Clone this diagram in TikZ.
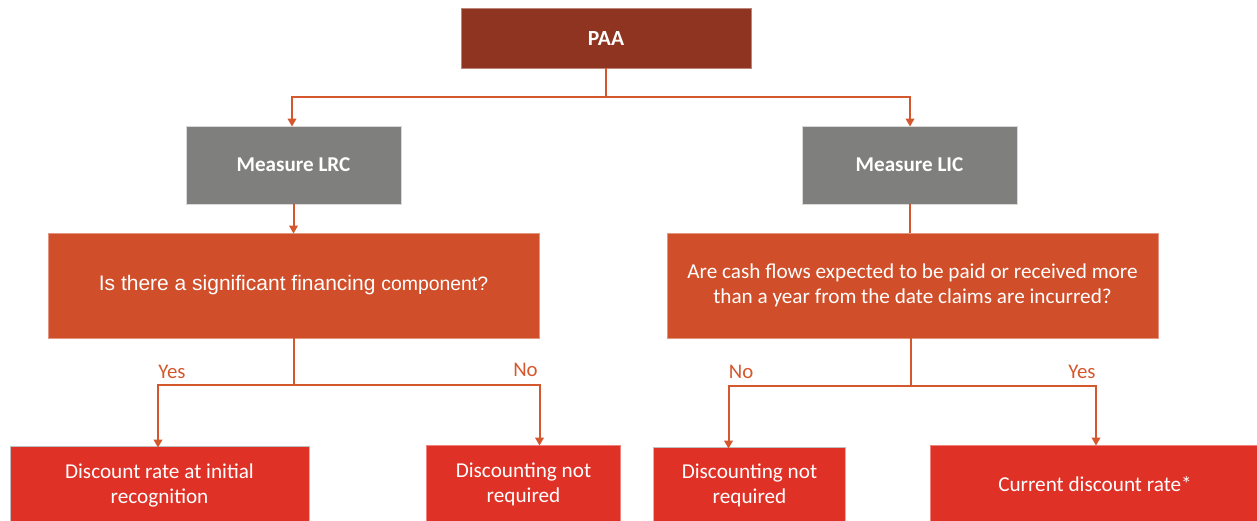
\documentclass[tikz,border=0pt]{standalone}
\usepackage{fontspec}
\setmainfont{Carlito}
\newfontfamily\arialf{Liberation Sans}
\usetikzlibrary{arrows.meta}
\definecolor{paa}{HTML}{8F3420}
\definecolor{grayb}{HTML}{7F7F7E}
\definecolor{qbox}{HTML}{D04E29}
\definecolor{rbox}{HTML}{E03127}
\definecolor{lin}{HTML}{D4572D}
\begin{document}
\begin{tikzpicture}[x=1pt,y=-1pt,
  box/.style={rectangle, inner sep=0pt, text=white, align=center, draw=white!85!black, line width=0.8pt},
  conn/.style={draw=lin, line width=2pt},
  arr/.style={conn, -{Triangle[length=8pt,width=8.5pt]}},
  txt/.style={font=\fontsize{21.2}{25}\selectfont},
  lbl/.style={text=lin, font=\fontsize{20.8}{24}\selectfont}]
\useasboundingbox (0,0) rectangle (1257,521);
\node[box, fill=paa, draw=paa!60!white, minimum width=290pt, minimum height=60pt, font=\bfseries\fontsize{21.6}{25}\selectfont] (paa) at (606,38) {PAA};
\node[box, fill=grayb, minimum width=215pt, minimum height=78pt, font=\bfseries\fontsize{21.1}{25}\selectfont] (lrc) at (293.5,165) {Measure LRC};
\node[box, fill=grayb, minimum width=215pt, minimum height=78pt, font=\bfseries\fontsize{21.1}{25}\selectfont] (lic) at (909.5,165) {Measure LIC};
\node[box, fill=qbox, draw=qbox!60!white, minimum width=491pt, minimum height=105pt] (q1) at (293.5,285.5) {\raisebox{-3pt}{\arialf\fontsize{21}{25}\selectfont Is there a significant financing \fontsize{19.4}{25}\selectfont component?}};
\node[box, fill=qbox, draw=qbox!60!white, minimum width=491pt, minimum height=105pt, txt] (q2) at (912.5,285.5) {Are cash flows expected to be paid or received more\\than a year from the date claims are incurred?};
\node[box, fill=rbox, draw=black!25, minimum width=299pt, minimum height=78pt, txt] (b1) at (159.5,485) {Discount rate at initial\\recognition};
\node[box, fill=rbox, draw=rbox!60!white, minimum width=194pt, minimum height=79pt, txt] (b2) at (523.5,484.5) {Discounting not\\required};
\node[box, fill=rbox, draw=black!25, minimum width=192pt, minimum height=77pt, txt] (b3) at (749.5,485.5) {Discounting not\\required};
\node[box, fill=rbox, draw=rbox!60!white, minimum width=330pt, minimum height=79pt, txt] (b4) at (1095,484.5) {Current discount rate*};
\coordinate (j0) at (606,97);
\coordinate (j1) at (293.5,385);
\coordinate (j2) at (911,386);
\draw[conn] (paa.south) -- (j0);
\draw[arr] (j0) -| ([xshift=-1.5pt,yshift=-1pt]lrc.north);
\draw[arr] (j0) -| ([xshift=0.5pt,yshift=-1pt]lic.north);
\draw[arr] (lrc.south) -- ([yshift=-1pt]q1.north);
\draw[conn] (lic.south) -- (lic.south |- q2.north);
\draw[conn] (q1.south) -- (j1);
\draw[arr] (j1) -| ([xshift=-1.5pt,yshift=-2pt]b1.north);
\draw[arr] (j1) -| ([xshift=16pt,yshift=-1pt]b2.north);
\draw[conn] (j2 |- q2.south) -- (j2);
\draw[arr] (j2) -| ([xshift=-21pt,yshift=-2pt]b3.north);
\draw[arr] (j2) -| ([xshift=1pt,yshift=-1pt]b4.north);
\node[lbl] (yes1) at (172,372) {Yes};
\node[lbl] (no1) at (525.5,370) {No};
\node[lbl] (no2) at (741,372) {No};
\node[lbl] (yes2) at (1082,372) {Yes};
\end{tikzpicture}
\end{document}
